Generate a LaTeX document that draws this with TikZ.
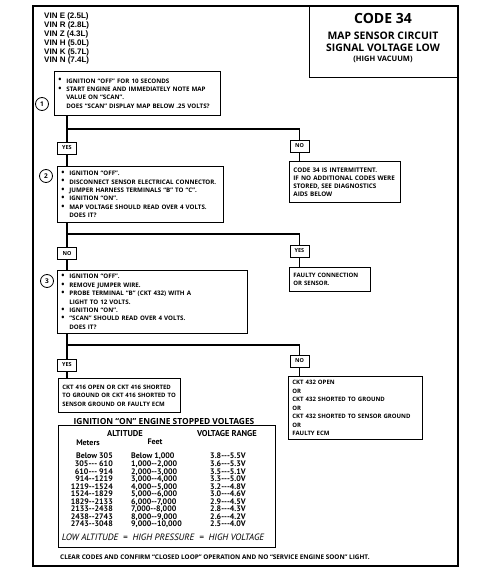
\documentclass[tikz,border=0pt]{standalone}
\usepackage{fontspec}
\setmainfont{Open Sans}
\newfontfamily\vinfont{Liberation Sans}
\newfontfamily\ptfont{PT Sans}
\newcommand\hy{-\kern0pt }
\newcommand\bul{\makebox[8pt][l]{\raisebox{0.1pt}{\scalebox{1.35}{\textbullet}}}}
\newcommand\ind{\hspace*{8pt}}
\begin{document}
\begin{tikzpicture}[x=1pt,y=-1pt,
  box/.style={draw, line width=0.8pt, anchor=north west, inner xsep=4pt, inner ysep=0pt,
    align=left, font=\bfseries\fontsize{6.2}{8.4}\selectfont},
  yn/.style={draw, line width=0.8pt, minimum width=19pt, minimum height=12pt, inner sep=0pt,
    font=\bfseries\fontsize{5.5}{6}\selectfont},
  num/.style={circle, draw, line width=0.8pt, minimum size=13pt, inner sep=0pt,
    font=\bfseries\fontsize{6.5}{6.5}\selectfont},
  conn/.style={line width=1.8pt},
  tcol/.style={inner sep=0pt, font=\ptfont\bfseries\fontsize{8}{7.56}\selectfont}
]
\useasboundingbox (0,0) rectangle (501,586);
% frame
\draw[line width=1.1pt] (33,6) rectangle (458,566);
% title
\node[draw, line width=0.9pt, anchor=north west, minimum width=149pt, minimum height=71pt, inner sep=0pt] (title) at (309,6) {};
\node[inner sep=0pt, font=\bfseries\fontsize{14}{14}\selectfont] (t1) at (383,18) {CODE 34};
\node[inner sep=0pt, font=\bfseries\fontsize{10.4}{10.4}\selectfont] (t2) at (383,36) {MAP SENSOR CIRCUIT};
\node[inner sep=0pt, font=\bfseries\fontsize{10.4}{10.4}\selectfont] (t3) at (383,48) {SIGNAL VOLTAGE LOW};
\node[inner sep=0pt, font=\bfseries\fontsize{7.5}{7.5}\selectfont] (t4) at (383,59) {(HIGH VACUUM)};
% VIN list
\node[anchor=north west, inner sep=0pt, align=left, font=\vinfont\bfseries\fontsize{8}{8.8}\selectfont] (vin) at (44,13)
 {VIN E (2.5L)\\VIN R (2.8L)\\VIN Z (4.3L)\\VIN H (5.0L)\\VIN K (5.7L)\\VIN N (7.4L)};
% step 1
\node[box, text width=158pt, minimum height=44pt] (b1) at (54,71)
 {\bul IGNITION “OFF” FOR 10 SECONDS\\
  \bul START ENGINE AND IMMEDIATELY NOTE MAP\\
  \ind VALUE ON “SCAN”.\\
  \ind DOES “SCAN” DISPLAY MAP BELOW .25 VOLTS?};
\node[num] (c1) at (42,104) {1};
\node[yn] (yes1) at (67,148) {YES};
\node[yn] (no1) at (299.5,146) {NO};
\coordinate (j1) at (67,129); \coordinate (k1) at (299.5,129);
\node[box, text width=103pt, minimum height=41pt, font=\bfseries\fontsize{6.3}{8.1}\selectfont] (i1) at (289,161)
 {CODE 34 IS INTERMITTENT.\\IF NO ADDITIONAL CODES WERE\\STORED, SEE DIAGNOSTICS\\AIDS BELOW};
% step 2
\node[box, text width=158pt, minimum height=56pt] (b2) at (57,166)
 {\bul IGNITION “OFF”.\\
  \bul DISCONNECT SENSOR ELECTRICAL CONNECTOR.\\
  \bul JUMPER HARNESS TERMINALS “B” TO “C”.\\
  \bul IGNITION “ON”.\\
  \bul MAP VOLTAGE SHOULD READ OVER 4 VOLTS.\\
  \ind DOES IT?};
\node[num] (c2) at (46,176) {2};
\node[yn] (no2) at (67,253.5) {NO};
\node[yn] (yes2) at (299.5,251) {YES};
\coordinate (j2) at (67,234); \coordinate (k2) at (299.5,234);
\node[box, text width=73pt, minimum height=24pt, font=\bfseries\fontsize{6}{7.6}\selectfont] (f1) at (289,267)
 {FAULTY CONNECTION\\OR SENSOR.};
% step 3
\node[box, text width=182pt, minimum height=63pt] (b3) at (57,270)
 {\bul IGNITION “OFF”.\\
  \bul REMOVE JUMPER WIRE.\\
  \bul PROBE TERMINAL “B” (CKT 432) WITH A\\
  \ind LIGHT TO 12 VOLTS.\\
  \bul IGNITION “ON”.\\
  \bul “SCAN” SHOULD READ OVER 4 VOLTS.\\
  \ind DOES IT?};
\node[num] (c3) at (47,281) {3};
\node[yn] (yes3) at (67,365) {YES};
\node[yn] (no3) at (299.5,361) {NO};
\coordinate (j3) at (67,345); \coordinate (k3) at (299.5,345);
\node[box, text width=114pt, minimum height=34pt, font=\bfseries\fontsize{6}{8.5}\selectfont] (k416) at (58,378)
 {CKT 416 OPEN OR CKT 416 SHORTED\\TO GROUND OR CKT 416 SHORTED TO\\SENSOR GROUND OR FAULTY ECM};
\node[box, text width=126pt, minimum height=63pt, font=\bfseries\fontsize{6}{8.5}\selectfont] (k432) at (288,376)
 {CKT 432 OPEN\\OR\\CKT 432 SHORTED TO GROUND\\OR\\CKT 432 SHORTED TO SENSOR GROUND\\OR\\FAULTY ECM};
% connectors
\draw[conn] (b1.south -| j1) -- (yes1.north);
\draw[conn] (j1) -- (k1) -- (no1.north);
\draw[conn] (yes1.south) -- (b2.north -| yes1);
\draw[conn] (no1.south) -- (i1.north -| no1);
\draw[conn] (b2.south -| j2) -- (no2.north);
\draw[conn] (j2) -- (k2) -- (yes2.north);
\draw[conn] (no2.south) -- (b3.north -| no2);
\draw[conn] (yes2.south) -- (f1.north -| yes2);
\draw[conn] (b3.south -| j3) -- (yes3.north);
\draw[conn] (j3) -- (k3) -- (no3.north);
\draw[conn] (yes3.south) -- (k416.north -| yes3);
\draw[conn] (no3.south) -- (k432.north -| no3);
% table
\node[inner sep=0pt, font=\bfseries\fontsize{8.4}{8.4}\selectfont] (ttl) at (164,421) {IGNITION “ON” ENGINE STOPPED VOLTAGES};
\node[draw, line width=1pt, anchor=north west, minimum width=217pt, minimum height=122pt, inner sep=0pt] (tab) at (58,425) {};
\node[inner sep=0pt, font=\ptfont\bfseries\fontsize{8.5}{8.5}\selectfont] (alt) at (125,434) {ALTITUDE};
\node[inner sep=0pt, font=\ptfont\bfseries\fontsize{8.5}{8.5}\selectfont] (vr) at (227,434) {VOLTAGE RANGE};
\node[inner sep=0pt, font=\ptfont\bfseries\fontsize{8}{8}\selectfont] (met) at (88,443) {Meters};
\node[inner sep=0pt, font=\ptfont\bfseries\fontsize{8}{8}\selectfont] (ft) at (155,442) {Feet};
\node[tcol, anchor=north east, align=right] (colm) at (113,453)
 {Below 305\\305\hy\hy\hy\ 610\\610\hy\hy\hy\ 914\\914\hy\hy 1219\\1219\hy\hy 1524\\1524\hy\hy 1829\\1829\hy\hy 2133\\2133\hy\hy 2438\\2438\hy\hy 2743\\2743\hy\hy 3048};
\node[tcol, anchor=north west, align=left] (colf) at (131,453)
 {Below 1,000\\1,000\hy\hy 2,000\\2,000\hy\hy 3,000\\3,000\hy\hy 4,000\\4,000\hy\hy 5,000\\5,000\hy\hy 6,000\\6,000\hy\hy 7,000\\7,000\hy\hy 8,000\\8,000\hy\hy 9,000\\9,000\hy\hy 10,000};
\node[tcol, anchor=north, align=center] (colv) at (228,453)
 {3.8\hy\hy\hy 5.5V\\3.6\hy\hy\hy 5.3V\\3.5\hy\hy\hy 5.1V\\3.3\hy\hy\hy 5.0V\\3.2\hy\hy\hy 4.8V\\3.0\hy\hy\hy 4.6V\\2.9\hy\hy\hy 4.5V\\2.8\hy\hy\hy 4.3V\\2.6\hy\hy\hy 4.2V\\2.5\hy\hy\hy 4.0V};
\node[inner sep=0pt, font=\ptfont\itshape\fontsize{9.2}{9.2}\selectfont] (low) at (163,537) {LOW ALTITUDE \ = \ HIGH PRESSURE \ = \ HIGH VOLTAGE};
\node[inner sep=0pt, anchor=west, font=\bfseries\fontsize{6.4}{6.4}\selectfont] (clr) at (60,557)
 {CLEAR CODES AND CONFIRM “CLOSED LOOP” OPERATION AND NO “SERVICE ENGINE SOON” LIGHT.};
\end{tikzpicture}
\end{document}
